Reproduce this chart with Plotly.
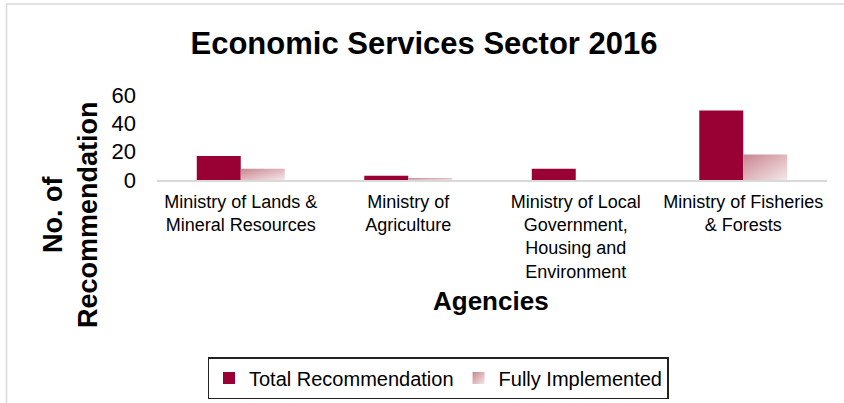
import plotly.graph_objects as go

# Agencies and recommendation counts
agencies = [
    "Ministry of Lands & Mineral Resources",
    "Ministry of Agriculture",
    "Ministry of Local Government, Housing and Environment",
    "Ministry of Fisheries & Forests",
]
agency_labels = [
    "Ministry of Lands &<br>Mineral Resources",
    "Ministry of<br>Agriculture",
    "Ministry of Local<br>Government,<br>Housing and<br>Environment",
    "Ministry of Fisheries<br>& Forests",
]
total_recommendation = [17, 3, 8, 49]
fully_implemented = [8, 1, 0, 18]
y_ticks = [0, 20, 40, 60]

FONT = "Liberation Sans, Arial, sans-serif"
W, H = 844, 403
ML, MR, MT, MB = 157, 17, 95, 223
PW, PH = W - ML - MR, H - MT - MB


def px_x(x):
    return (x - ML) / PW


def px_y(y):
    return (H - MB - y) / PH


fig = go.Figure()
fig.add_bar(
    x=agencies, y=total_recommendation, name="Total Recommendation",
    marker=dict(color="#990033", line=dict(width=0)),
)
fig.add_bar(
    x=agencies, y=fully_implemented, name="Fully Implemented",
    marker=dict(color="#deb3b9", line=dict(width=0)),
)

fig.update_layout(
    width=W, height=H,
    margin=dict(l=ML, r=MR, t=MT, b=MB, pad=0),
    paper_bgcolor="white", plot_bgcolor="white",
    font=dict(family=FONT, color="black"),
    barmode="group", bargap=0.475, bargroupgap=0,
    showlegend=True,
    title=dict(
        text="<b>Economic Services Sector 2016</b>",
        font=dict(size=31, family=FONT, color="black"),
        x=424 / W, xanchor="center", xref="container",
        y=1 - 43 / H, yanchor="middle", yref="container",
    ),
    legend=dict(
        orientation="h", xref="container", yref="container",
        x=438 / W, xanchor="center",
        y=1 - 378 / H, yanchor="middle",
        font=dict(size=20, family=FONT, color="black"),
        bordercolor="#222222", borderwidth=1.5,
        bgcolor="white", traceorder="normal",
        itemwidth=30, tracegroupgap=0,
    ),
    xaxis=dict(
        tickmode="array", tickvals=agencies, ticktext=agency_labels,
        tickfont=dict(size=18, family=FONT, color="black"),
        showline=True, linecolor="#d9d9d9", linewidth=2,
        showgrid=False, zeroline=False, ticks="",
        ticklabelstandoff=4,
    ),
    yaxis=dict(
        range=[0, 60], tickvals=y_ticks,
        tickfont=dict(size=22, family=FONT, color="black"),
        showline=False, showgrid=False, zeroline=False, ticks="",
        ticklabelstandoff=20,
    ),
    annotations=[
        dict(
            text="<b>No. of<br>Recommendation</b>", textangle=-90,
            xref="paper", yref="paper", x=px_x(70), y=px_y(215),
            xanchor="center", yanchor="middle", showarrow=False,
            font=dict(size=27, family=FONT, color="black"),
        ),
        dict(
            text="<b>Agencies</b>",
            xref="paper", yref="paper", x=px_x(491), y=px_y(301),
            xanchor="center", yanchor="middle", showarrow=False,
            font=dict(size=26, family=FONT, color="black"),
        ),
    ],
    shapes=[
        dict(
            type="rect", xref="paper", yref="paper",
            x0=px_x(6.5), x1=px_x(860), y0=px_y(4), y1=px_y(420),
            line=dict(color="#d9d9d9", width=1.5), fillcolor="rgba(0,0,0,0)",
            layer="below",
        )
    ],
)

# Diagonal pink fade for the "Fully Implemented" bars and their legend key
post_js = """
(function () {
  var gd = document.getElementById('{plot_id}');
  function applyFade() {
    var svg = gd.querySelector('svg.main-svg');
    if (!svg) return;
    var ns = 'http://www.w3.org/2000/svg';
    if (!document.getElementById('fullFade')) {
      var defs = svg.querySelector('defs') || svg.insertBefore(document.createElementNS(ns, 'defs'), svg.firstChild);
      var lg = document.createElementNS(ns, 'linearGradient');
      lg.setAttribute('id', 'fullFade');
      lg.setAttribute('x1', '0'); lg.setAttribute('y1', '0');
      lg.setAttribute('x2', '1'); lg.setAttribute('y2', '1');
      [['0%', '#c9858f'], ['100%', '#f4e7e8']].forEach(function (s) {
        var st = document.createElementNS(ns, 'stop');
        st.setAttribute('offset', s[0]);
        st.setAttribute('stop-color', s[1]);
        lg.appendChild(st);
      });
      defs.appendChild(lg);
    }
    var bars = gd.querySelectorAll('.barlayer .trace');
    if (bars.length > 1) {
      bars[1].querySelectorAll('path').forEach(function (p) { p.style.fill = 'url(#fullFade)'; });
    }
    var legs = gd.querySelectorAll('.legend .traces');
    if (legs.length > 1) {
      legs[1].querySelectorAll('.legendpoints path').forEach(function (p) { p.style.fill = 'url(#fullFade)'; });
    }
  }
  applyFade();
  gd.on('plotly_afterplot', applyFade);
})();
"""

fig.write_html("out.html", post_script=post_js)
